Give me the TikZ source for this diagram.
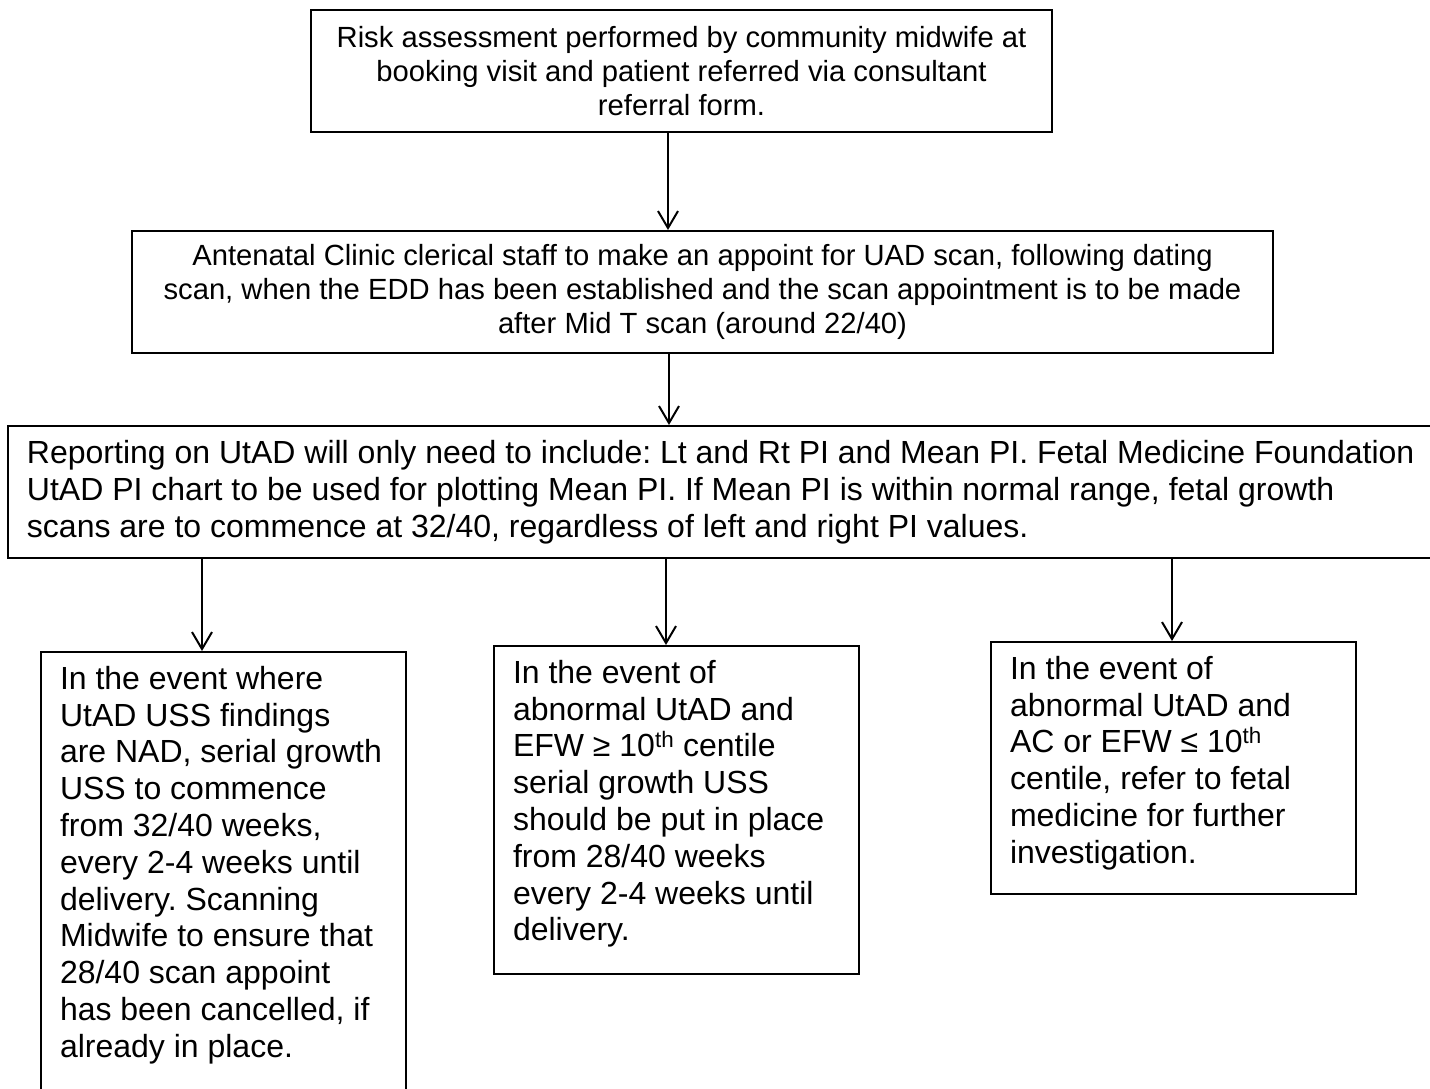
\documentclass[tikz,border=0pt]{standalone}
\usepackage{fontspec}
\setmainfont{Liberation Sans}
\usetikzlibrary{arrows.meta}
\frenchspacing
% text of an outcome box, top aligned in a box of given height
\newcommand\casetext[2]{\parbox[c][#1][t]{327pt}{\raggedright #2}}

\begin{document}
\begin{tikzpicture}[x=1pt,y=-1pt,
  box/.style={draw, line width=2pt, inner xsep=19pt},
  small/.style={font=\fontsize{29.2}{34}\selectfont},
  big/.style={font=\fontsize{32}{36.8}\selectfont},
  case/.style={box, big, anchor=north west, inner ysep=14pt},
  flow/.style={line width=2pt, -{Straight Barb[length=17pt,width=20pt]}}]
\useasboundingbox (0,0) rectangle (1430,1088);
\clip (0,0) rectangle (1430,1088);
% Referral
\node[box, small, align=center, minimum width=741pt, minimum height=122pt] (b1) at (681.5,71)
  {Risk assessment performed by community midwife at\\booking visit and patient referred via consultant\\referral form.};
% Appointment
\node[box, small, align=center, minimum width=1141pt, minimum height=122pt] (b2) at (702.5,292)
  {Antenatal Clinic clerical staff to make an appoint for UAD scan, following dating\\scan, when the EDD has been established and the scan appointment is to be made\\after Mid T scan (around 22/40)};
% Reporting (runs off the right edge)
\node[box, big, anchor=north west, align=flush left, text width=1420pt, minimum height=132pt] (b3) at (7,425)
  {Reporting on UtAD will only need to include: Lt and Rt PI and Mean PI. Fetal Medicine Foundation\\UtAD PI chart to be used for plotting Mean PI. If Mean PI is within normal range, fetal growth\\scans are to commence at 32/40, regardless of left and right PI values.};
% Outcomes
\node[case] (b4) at (40,651)
  {\casetext{470pt}{In the event where\\UtAD USS findings\\are NAD, serial growth\\USS to commence\\from 32/40 weeks,\\every 2-4 weeks until\\delivery. Scanning\\Midwife to ensure that\\28/40 scan appoint\\has been cancelled, if\\already in place.}};
\node[case] (b5) at (493,645)
  {\casetext{300pt}{In the event of\\abnormal UtAD and\\EFW ≥ 10\textsuperscript{th} centile\\serial growth USS\\should be put in place\\from 28/40 weeks\\every 2-4 weeks until\\delivery.}};
\node[case] (b6) at (990,641)
  {\casetext{224pt}{In the event of\\abnormal UtAD and\\AC or EFW ≤ 10\textsuperscript{th}\\centile, refer to fetal\\medicine for further\\investigation.}};
% Arrows
\coordinate (a1) at (668,0);
\coordinate (a2) at (669,0);
\draw[flow] (b1.south -| a1) -- (b2.north -| a1);
\draw[flow] (b2.south -| a2) -- (b3.north -| a2);
\foreach \n/\x in {4/202,5/666,6/1172} {
  \coordinate (a\n) at (\x,0);
  \draw[flow] (b3.south -| a\n) -- (b\n.north -| a\n);
}
\end{tikzpicture}
\end{document}
